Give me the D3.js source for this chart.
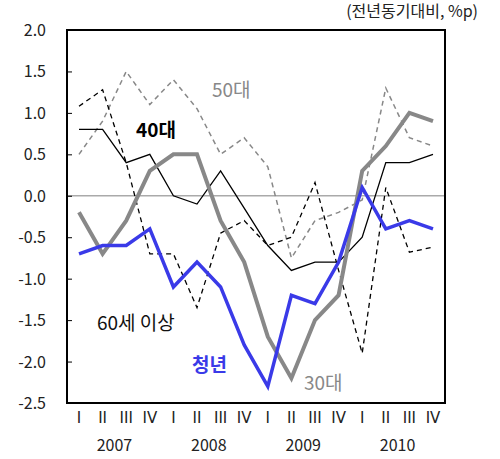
<!DOCTYPE html><html><head><meta charset="utf-8"><script src="https://cdn.jsdelivr.net/npm/d3@7"></script>
<style>body{margin:0;background:#fff}</style></head><body><svg id="c" width="500" height="459"></svg><script>
const quarters=["I","II","III","IV","I","II","III","IV","I","II","III","IV","I","II","III","IV"];
const years=["2007","2008","2009","2010"];
const yTicks=[2.0,1.5,1.0,0.5,0.0,-0.5,-1.0,-1.5,-2.0,-2.5];
const youth=[-0.7,-0.6,-0.6,-0.4,-1.1,-0.8,-1.1,-1.8,-2.3,-1.2,-1.3,-0.8,0.1,-0.4,-0.3,-0.4];
const s30=[-0.2,-0.7,-0.3,0.3,0.5,0.5,-0.3,-0.8,-1.7,-2.2,-1.5,-1.2,0.3,0.6,1.0,0.9];
const s40=[0.8,0.8,0.4,0.5,0.0,-0.1,0.3,-0.15,-0.6,-0.9,-0.8,-0.8,-0.5,0.4,0.4,0.5];
const s50=[0.5,0.9,1.5,1.1,1.4,1.05,0.5,0.7,0.35,-0.75,-0.3,-0.2,-0.05,1.3,0.7,0.6];
const s60=[1.08,1.28,0.4,-0.7,-0.7,-1.35,-0.45,-0.3,-0.6,-0.5,0.16,-0.9,-1.9,0.1,-0.68,-0.62];
const svg=d3.select("#c");
const L=67,R=445,T=30,B=403;
const x=d3.scalePoint().domain(d3.range(16)).range([79,433]);
const y=d3.scaleLinear().domain([-2.5,2.0]).range([B,T]);
const F="'Noto Sans CJK KR','Noto Sans',sans-serif";
svg.append("line").attr("x1",L).attr("x2",R).attr("y1",y(0)).attr("y2",y(0)).attr("stroke","#aaa").attr("stroke-width",1.5);
const line=d3.line().x((d,i)=>x(i)).y(d=>y(d));
function draw(data,color,w,dash){svg.append("path").datum(data).attr("d",line).attr("fill","none").attr("stroke",color).attr("stroke-width",w).attr("stroke-dasharray",dash||null);}
draw(s50,"#888",1.5,"5,4");
draw(s60,"#000",1.3,"5,4");
draw(s40,"#000",1.3);
draw(s30,"#888",4);
draw(youth,"#3a3ae8",3.5);
svg.append("rect").attr("x",L).attr("y",T).attr("width",R-L).attr("height",B-T).attr("fill","none").attr("stroke","#000").attr("stroke-width",2);
const ya=svg.append("g").attr("transform",`translate(${L},0)`).call(d3.axisRight(y).tickValues(yTicks).tickSize(5).tickFormat(""));
ya.select(".domain").remove();
yTicks.forEach(t=>svg.append("text").attr("x",46).attr("y",y(t)+6).attr("text-anchor","end").attr("font-family",F).attr("font-size",16).attr("fill","#222").text(t.toFixed(1)));
quarters.forEach((q,i)=>svg.append("text").attr("x",x(i)).attr("y",423).attr("text-anchor","middle").attr("font-family","'DejaVu Sans',sans-serif").attr("font-size",15).attr("fill","#222").text(q));
years.forEach((yr,j)=>svg.append("text").attr("x",(x(j*4+1)+x(j*4+2))/2).attr("y",451).attr("text-anchor","middle").attr("font-family",F).attr("font-size",16).attr("fill","#222").text(yr));
svg.append("text").attr("x",478).attr("y",17).attr("text-anchor","end").attr("font-family",F).attr("font-size",16).attr("fill","#222").text("(전년동기대비,  %p)");
const lab=(t,xx,yy,c,b)=>svg.append("text").attr("x",xx).attr("y",yy).attr("font-family",F).attr("font-size",19).attr("font-weight",b?"bold":"normal").attr("fill",c).text(t);
lab("50대",212,97,"#888");lab("40대",136,137,"#000",true);lab("60세 이상",97,330,"#111");lab("청년",192,372,"#3a3ae8",true);lab("30대",304,390,"#888");
</script></body></html>
